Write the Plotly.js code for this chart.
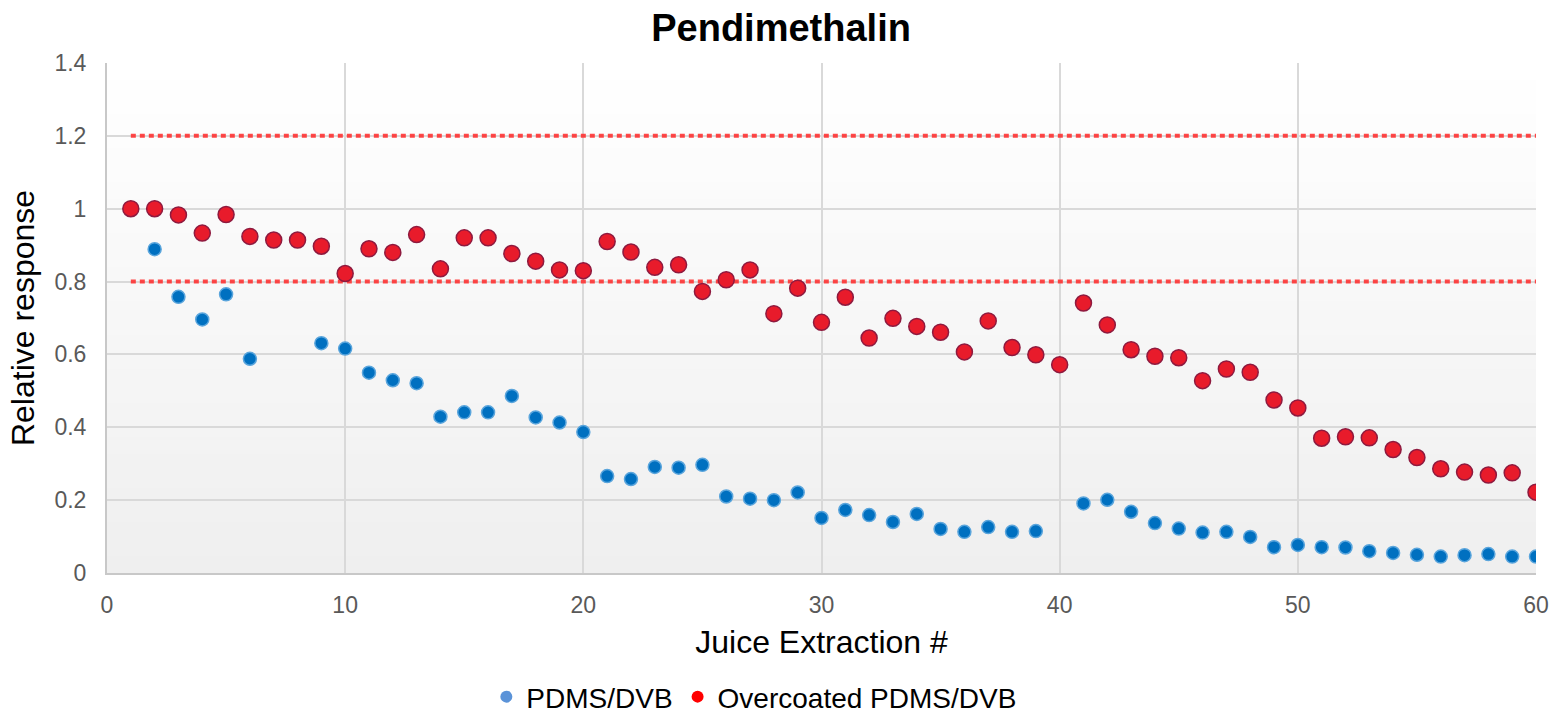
<!DOCTYPE html>
<html>
<head>
<meta charset="utf-8">
<script src="https://cdn.plot.ly/plotly-3.0.1.min.js"></script>
<style>html,body{margin:0;padding:0;background:#fff;}#chart{width:1550px;height:715px;}</style>
</head>
<body>
<div id="chart"></div>
<script>
const extraction = [1,2,3,4,5,6,7,8,9,10,11,12,13,14,15,16,17,18,19,20,21,22,23,24,25,26,27,28,29,30,31,32,33,34,35,36,37,38,39,40,41,42,43,44,45,46,47,48,49,50,51,52,53,54,55,56,57,58,59,60];
const pdmsDvb = [1.0,0.889,0.758,0.696,0.765,0.588,null,null,0.631,0.616,0.55,0.529,0.521,0.429,0.441,0.441,0.486,0.427,0.413,0.387,
  0.266,0.258,0.291,0.289,0.297,0.21,0.204,0.2,0.221,0.151,0.173,0.159,0.14,0.162,0.121,0.113,0.126,0.113,0.115,null,
  0.191,0.201,0.168,0.137,0.122,0.111,0.113,0.099,0.071,0.077,0.071,0.07,0.06,0.055,0.05,0.045,0.049,0.052,0.045,0.045];
const overcoated = [1.0,1.0,0.983,0.933,0.984,0.924,0.914,0.914,0.897,0.822,0.89,0.88,0.929,0.835,0.92,0.92,0.877,0.856,0.832,0.83,
  0.91,0.881,0.839,0.846,0.773,0.805,0.832,0.712,0.782,0.688,0.757,0.645,0.699,0.677,0.661,0.607,0.692,0.619,0.599,0.572,
  0.741,0.681,0.613,0.595,0.591,0.528,0.56,0.551,0.475,0.453,0.37,0.374,0.371,0.339,0.317,0.286,0.277,0.269,0.275,0.222];
const limitX = [1, 60];
const upperLimit = 1.2;
const lowerLimit = 0.8;
const seriesNames = ['PDMS/DVB', 'Overcoated PDMS/DVB'];

const FONT = 'Liberation Sans, Arial, sans-serif';

const traces = [
  {x: limitX, y: limitX.map(() => upperLimit), mode: 'lines', showlegend: false, hoverinfo: 'skip',
   line: {color: 'rgba(255,40,40,0.85)', width: 4, dash: '5px,4px'}},
  {x: limitX, y: limitX.map(() => lowerLimit), mode: 'lines', showlegend: false, hoverinfo: 'skip',
   line: {color: 'rgba(255,40,40,0.85)', width: 4, dash: '5px,4px'}},
  {x: extraction, y: pdmsDvb, mode: 'markers', name: seriesNames[0], showlegend: false,
   marker: {size: 13, color: '#0070C0', line: {color: '#5AA5DC', width: 1.5}}},
  {x: extraction, y: overcoated, mode: 'markers', name: seriesNames[1], showlegend: false,
   marker: {size: 16, color: '#E81B2B', line: {color: '#8E1A3F', width: 1.5}}},
  {x: [null], y: [null], mode: 'markers', name: seriesNames[0], showlegend: true,
   marker: {size: 11, color: '#5B93D8'}},
  {x: [null], y: [null], mode: 'markers', name: seriesNames[1], showlegend: true,
   marker: {size: 11, color: '#FF0000'}}
];

const shapes = [];
const N = 30;
for (let i = 0; i < N; i++) {
  const t = (i + 0.5) / N;
  const v = Math.round(255 - 16 * t);
  shapes.push({type: 'rect', xref: 'x domain', yref: 'y domain', x0: 0, x1: 1,
    y0: 1 - (i + 1) / N, y1: 1 - i / N, fillcolor: `rgb(${v},${v},${v})`, line: {width: 0}, layer: 'below'});
}

const layout = {
  width: 1550, height: 715,
  margin: {l: 107, r: 14, t: 63, b: 142, autoexpand: false},
  paper_bgcolor: '#FFFFFF', plot_bgcolor: '#FFFFFF',
  font: {family: FONT, color: '#595959'},
  title: {text: '<b>Pendimethalin</b>', font: {family: FONT, size: 38, color: '#000000'},
          xref: 'paper', x: 0.4717, xanchor: 'center', yref: 'container', y: 0.961, yanchor: 'middle'},
  xaxis: {range: [0, 60], dtick: 10, tick0: 0, showgrid: true, gridcolor: '#D9D9D9', gridwidth: 2,
          zeroline: false, showline: true, linecolor: '#C8C8C8', linewidth: 2, mirror: false,
          ticks: '', tickfont: {size: 23, color: '#595959'}, ticklabelstandoff: 10,
          title: {text: 'Juice Extraction #', font: {size: 32, color: '#000000'}, standoff: 14},
          automargin: false, fixedrange: true},
  yaxis: {range: [0, 1.4], dtick: 0.2, tick0: 0, showgrid: true, gridcolor: '#D9D9D9', gridwidth: 2,
          zeroline: false, showline: true, linecolor: '#C8C8C8', linewidth: 2,
          ticks: '', tickfont: {size: 23, color: '#595959'}, ticklabelstandoff: 14,
          title: {text: 'Relative response', font: {size: 32, color: '#000000'}, standoff: 10},
          automargin: false, fixedrange: true},
  showlegend: true,
  legend: {orientation: 'h', x: 0.453, xanchor: 'center', y: -0.243, yanchor: 'middle',
           font: {size: 28, color: '#000000'}, itemsizing: 'constant', itemwidth: 30, tracegroupgap: 0},
  shapes: shapes
};

Plotly.newPlot('chart', traces, layout, {displayModeBar: false, staticPlot: true});
</script>
</body>
</html>
